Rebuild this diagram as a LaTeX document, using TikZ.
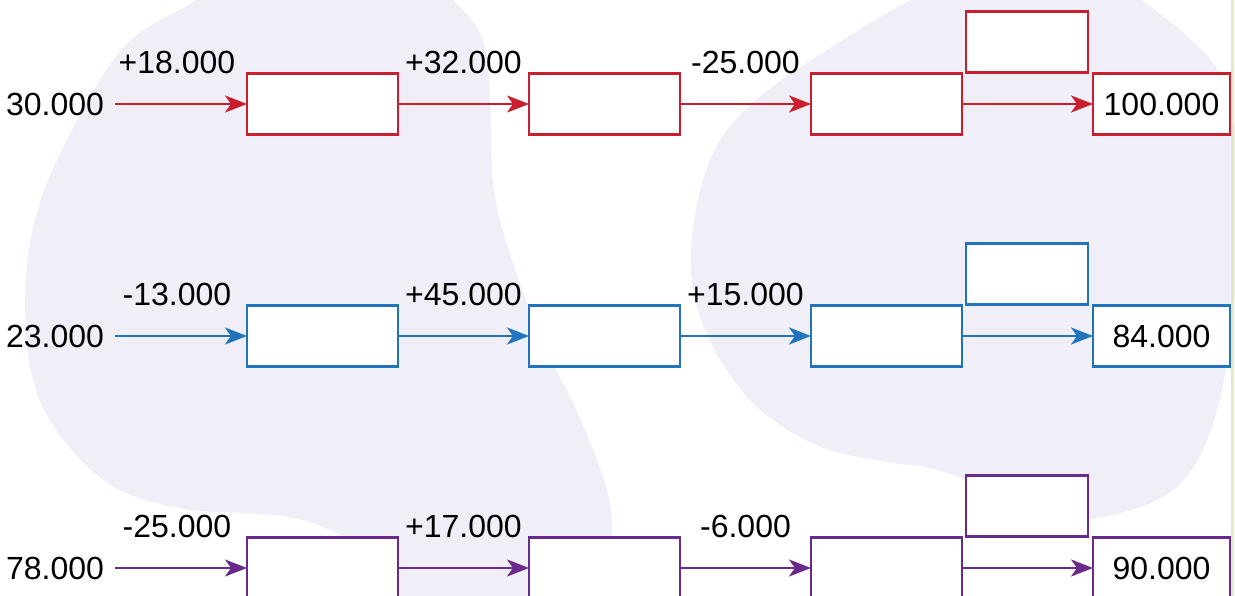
\documentclass[tikz,border=0pt]{standalone}
\usepackage{fontspec}
\setmainfont{Liberation Sans}
\usetikzlibrary{positioning,arrows.meta}
\definecolor{rowred}{RGB}{200,30,45}
\definecolor{rowblue}{RGB}{34,115,190}
\definecolor{rowpurple}{RGB}{106,42,140}
\definecolor{blobfill}{RGB}{240,239,248}
\definecolor{edgegreen}{RGB}{226,234,192}

\begin{document}
\begin{tikzpicture}[x=1pt, y=-1pt,
  every node/.style={font=\fontsize{32}{38}\selectfont, inner sep=0pt, outer sep=0pt},
  stepbox/.style={draw, line width=2.8pt, fill=white, minimum width=151pt, minimum height=61pt},
  smallbox/.style={stepbox, minimum width=122pt},
  endbox/.style={stepbox, minimum width=137pt},
  flow/.style={-{Stealth[length=22pt, width=17pt, inset=6pt]}, line width=2.5pt}]
  \useasboundingbox (0,0) rectangle (1235,596);
  % background blobs
  \begin{scope}
    \clip (0,0) rectangle (1235,596);
    \fill[blobfill] plot[smooth cycle, tension=0.6] coordinates {
      (400,-45) (260,-45) (196,0) (122,49) (61,152) (33,228) (25,304) (33,380) (61,437)
      (114,487) (184,509) (245,513) (306,521) (367,551) (400,596) (500,650)
      (608,596) (612,551) (608,494) (580,418) (543,342) (514,266) (494,190)
      (490,95) (482,38) (453,0)};
    \fill[blobfill] plot[smooth cycle, tension=0.6] coordinates {
      (1090,-40) (990,-40) (910,0) (816,57) (749,106) (710,160) (691,247) (702,323)
      (749,399) (816,445) (887,462) (934,469) (993,490) (1051,513) (1091,519)
      (1161,498) (1200,456) (1224,380) (1236,280) (1240,160) (1220,76)
      (1189,38) (1142,0)};
  \end{scope}
  \fill[edgegreen] (1231,0) rectangle (1234,596);
  % one chain per row
  \foreach \r/\col/\ya/\start/\da/\db/\dc/\res in {
      1/rowred/104/30.000/+18.000/+32.000/-25.000/100.000,
      2/rowblue/336/23.000/-13.000/+45.000/+15.000/84.000,
      3/rowpurple/568/78.000/-25.000/+17.000/-6.000/90.000} {
    \node[anchor=east] (in\r) at (104,\ya) {\start};
    \node[stepbox, draw=\col] (a\r) at (322.5,\ya) {};
    \node[stepbox, draw=\col, right=131pt of a\r] (b\r) {};
    \node[stepbox, draw=\col, right=131pt of b\r] (c\r) {};
    \node[endbox, draw=\col, right=131pt of c\r] (res\r) {\res};
    \node[smallbox, draw=\col, anchor=south west, xshift=4pt, yshift=1pt] (top\r) at (c\r.north east) {};
    \draw[flow, draw=\col] ([xshift=11pt]in\r.east) -- node[above=30pt, xshift=-4pt] (da\r) {\da} (a\r);
    \draw[flow, draw=\col] (a\r) -- node[above=30pt] (db\r) {\db} (b\r);
    \draw[flow, draw=\col] (b\r) -- node[above=30pt] (dc\r) {\dc} (c\r);
    \draw[flow, draw=\col] (c\r) -- (res\r);
  }
\end{tikzpicture}
\end{document}
